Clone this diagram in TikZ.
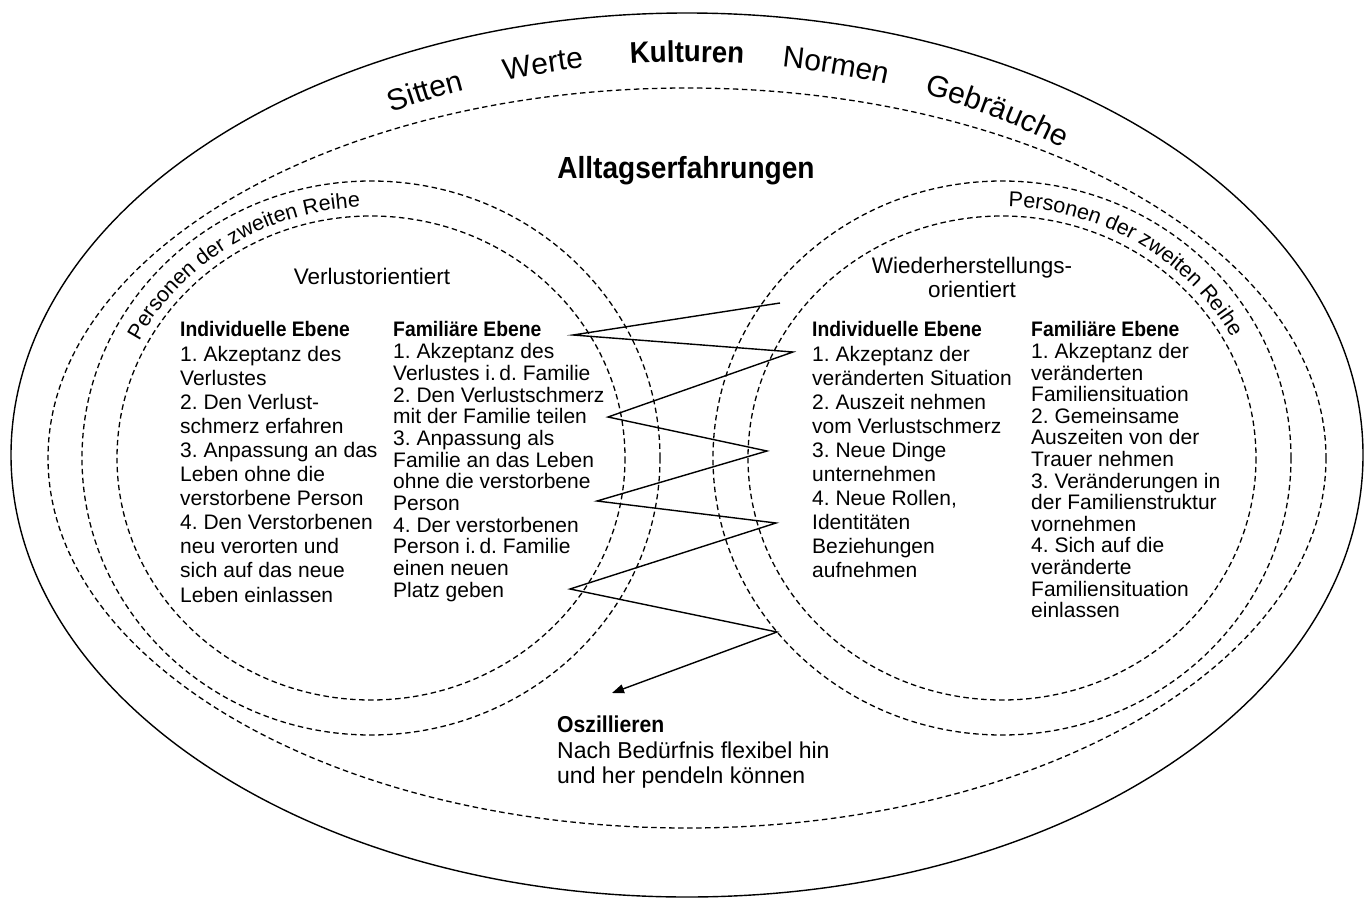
\documentclass[tikz,border=0pt]{standalone}
\usepackage{fontspec}
\setmainfont{Liberation Sans}[BoldFeatures={FakeStretch=0.92}]
\usetikzlibrary{arrows.meta,decorations.text}
\frenchspacing
\newcommand\topfont{\fontsize{30}{30}\selectfont}
\newcommand\arcfont{\fontsize{21.5}{22}\selectfont}
% #1 cx, #2 cy, #3 rx, #4 ry, #5 start angle, #6 end angle (visual, clockwise), #7 text
\newcommand\arcword[7]{%
  \path[decorate, decoration={text along path, text align=center, text={#7}}]
    ({#1+#3*cos(#5)},{#2-#4*sin(#5)}) arc[start angle=-#5, end angle=-#6, x radius=#3, y radius=#4];}
\begin{document}
\begin{tikzpicture}[x=1pt,y=-1pt,
  solidline/.style={line width=1.4pt},
  dashline/.style={line width=1.3pt, dash pattern=on 5.5pt off 3.5pt},
  zig/.style={line width=1.4pt, line join=miter},
  body/.style={anchor=north west, align=left, inner sep=0pt, font=\fontsize{21}{24.1}\selectfont},
  bodytight/.style={body, font=\fontsize{21}{21.7}\selectfont},
  head/.style={inner sep=0pt, align=center, font=\fontsize{22.5}{24}\selectfont},
]
\useasboundingbox (0,0) rectangle (1370,899);
\fill[white] (0,0) rectangle (1370,899);

% outer ellipse and Alltag ellipse
\draw[solidline] (687,455) ellipse [x radius=676, y radius=442];
\draw[dashline] (687,458) ellipse [x radius=639, y radius=370];

% left circles
\draw[dashline] (371,458) ellipse [x radius=254, y radius=242];
\draw[dashline] (371,458) ellipse [x radius=289, y radius=277];
% right circles
\draw[dashline] (1002,458) ellipse [x radius=254, y radius=242];
\draw[dashline] (1002,458) ellipse [x radius=289, y radius=277];

% top words along an arc
\arcword{687}{455}{601}{393}{131}{101}{|\topfont|Sitten}
\arcword{687}{455}{601}{393}{119}{89}{|\topfont|Werte}
\arcword{687}{455}{601}{393}{105}{75}{|\topfont\bfseries|Kulturen}
\arcword{687}{455}{601}{393}{90.5}{60.5}{|\topfont|Normen}
\arcword{687}{455}{601}{393}{75}{42}{|\topfont|Gebräuche}

% Personen der zweiten Reihe
\arcword{371}{458}{262}{251}{162.5}{82.5}{|\arcfont|Personen der zweiten Reihe}
\arcword{1002}{458}{262}{251}{98.5}{18.5}{|\arcfont|Personen der zweiten Reihe}

\node[inner sep=0pt, font=\fontsize{30.5}{32}\selectfont\bfseries] (alltag) at (686,171) {Alltagserfahrungen};

\node[head] (verl) at (372,276) {Verlustorientiert};
\node[head] (wied) at (972,277) {Wiederherstellungs-\\orientiert};

\node[body] (li) at (180,321.5) {\textbf{Individuelle Ebene}\\1. Akzeptanz des\\Verlustes\\2. Den Verlust-\\schmerz erfahren\\3. Anpassung an das\\Leben ohne die\\verstorbene Person\\4. Den Verstorbenen\\neu verorten und\\sich auf das neue\\Leben einlassen};

\node[bodytight] (lf) at (393,321.5) {\textbf{Familiäre Ebene}\\1. Akzeptanz des\\Verlustes i.\,d. Familie\\2. Den Verlustschmerz\\mit der Familie teilen\\3. Anpassung als\\Familie an das Leben\\ohne die verstorbene\\Person\\4. Der verstorbenen\\Person i.\,d. Familie\\einen neuen\\Platz geben};

\node[body] (ri) at (812,321.5) {\textbf{Individuelle Ebene}\\1. Akzeptanz der\\veränderten Situation\\2. Auszeit nehmen\\vom Verlustschmerz\\3. Neue Dinge\\unternehmen\\4. Neue Rollen,\\Identitäten\\Beziehungen\\aufnehmen};

\node[bodytight, font=\fontsize{21}{21.6}\selectfont] (rf) at (1031,321.5) {\textbf{Familiäre Ebene}\\1. Akzeptanz der\\veränderten\\Familiensituation\\2. Gemeinsame\\Auszeiten von der\\Trauer nehmen\\3. Veränderungen in\\der Familienstruktur\\vornehmen\\4. Sich auf die\\veränderte\\Familiensituation\\einlassen};

\node[body, font=\fontsize{23}{25.5}\selectfont] (osz) at (557,716) {\textbf{Oszillieren}\\Nach Bedürfnis flexibel hin\\und her pendeln können};

% zigzag (oscillation)
\coordinate (z0) at (780,303);
\coordinate (z1) at (573,335);
\coordinate (z2) at (793,352);
\coordinate (z3) at (608,417);
\coordinate (z4) at (767,451);
\coordinate (z5) at (597,501);
\coordinate (z6) at (776,523);
\coordinate (z7) at (570,589);
\coordinate (z8) at (777,632);
\coordinate (tip) at (612,693);
\draw[zig, -{Triangle[length=12pt,width=9pt]}] (z0) -- (z1) -- (z2) -- (z3) -- (z4) -- (z5) -- (z6) -- (z7) -- (z8) -- (tip);
\end{tikzpicture}
\end{document}
